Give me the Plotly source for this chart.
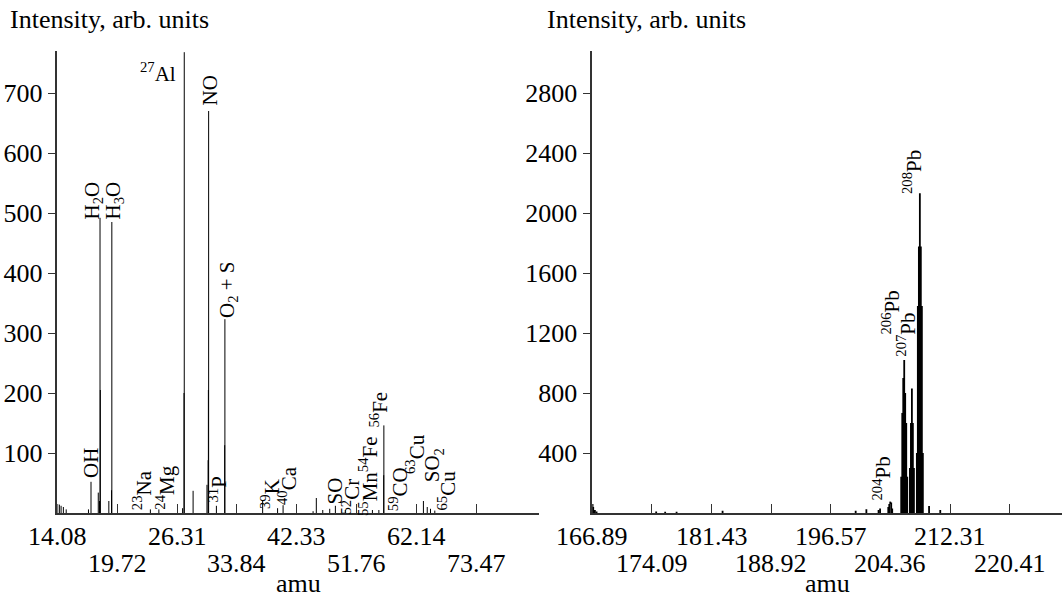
import numpy as np
import plotly.graph_objects as go

W, H = 1062, 598

# ---------------- data ----------------
# Left spectrum: stick positions (amu) and intensities (arb. units)
left_mass = [14.10, 14.25, 14.40, 14.60, 14.85, 16.89, 17.13, 17.83, 17.95, 18.00, 18.03,
             18.87, 19.14, 19.17, 23.25, 24.20, 26.96, 27.13, 27.16, 28.23, 29.95,
             30.10, 30.13, 30.16, 31.15, 32.22, 32.25, 37.37, 39.50, 40.30, 44.80,
             45.30, 46.30, 47.40, 48.30, 49.90, 54.40, 55.50, 56.33, 56.36, 63.40,
             64.10, 64.70, 65.50]
left_int = [15, 14, 12, 10, 6, 6, 52, 34, 20, 492, 205,
            20, 38, 485, 6, 6, 8, 200, 768, 37, 47,
            88, 205, 670, 12, 113, 323, 20, 8, 13, 3,
            25, 5, 7, 12, 5, 5, 5, 63, 146, 20,
            10, 7, 4]

# Right spectrum
right_mass = [166.92, 167.00, 167.20, 167.40, 174.60, 175.70, 177.10, 182.80,
              199.80, 201.20, 202.80, 203.00,
              204.08, 204.21, 204.34, 204.47, 204.60,
              205.79, 205.93, 206.06, 206.19, 206.32, 206.46, 206.59,
              206.94, 207.08, 207.21, 207.34, 207.48,
              207.87, 208.00, 208.14, 208.27, 208.40, 208.54, 208.67,
              209.50, 211.00]
right_int = [60, 40, 20, 10, 10, 8, 8, 15,
             15, 25, 20, 30,
             40, 60, 76, 70, 30,
             242, 667, 900, 1020, 800, 600, 242,
             300, 600, 830, 600, 300,
             400, 1380, 1776, 2131, 1776, 1380, 400,
             47, 20]

left_tick_labels = ["14.08", "19.72", "26.31", "33.84", "42.33", "51.76", "62.14", "73.47"]
right_tick_labels = ["166.89", "174.09", "181.43", "188.92", "196.57", "204.36", "212.31", "220.41"]
left_y_ticks = [100, 200, 300, 400, 500, 600, 700]
right_y_ticks = [400, 800, 1200, 1600, 2000, 2400, 2800]

left_peak_labels = ["OH", "H<sub>2</sub>O", "H<sub>3</sub>O", "NO", "O<sub>2</sub> + S",
                    "<sup>23</sup>Na", "<sup>24</sup>Mg", "<sup>31</sup>P", "<sup>39</sup>K",
                    "<sup>40</sup>Ca", "SO", "<sup>52</sup>Cr", "<sup>55</sup>Mn<sup>54</sup>Fe",
                    "<sup>56</sup>Fe", "<sup>59</sup>CO", "<sup>63</sup>Cu", "SO<sub>2</sub>",
                    "<sup>65</sup>Cu"]
right_peak_labels = ["<sup>208</sup>Pb", "<sup>206</sup>Pb", "<sup>207</sup>Pb", "<sup>204</sup>Pb"]

# ---------------- layout helpers ----------------
FONT = "Liberation Serif"
AX = "#333333"
# label centres in pixels (layout only)
left_label_pos = [(90.5, 463.5), (92.5, 201), (113.5, 201), (209.5, 91), (228, 290),
                  (142.7, 490.5), (164.7, 488), (218, 489.5), (270.5, 494.5),
                  (287, 486), (334.5, 491), (350.5, 497), (368, 476),
                  (378.5, 410), (398.7, 489.5), (415.5, 454.5), (433.3, 465),
                  (446.5, 491)]
right_label_pos = [(912, 172), (890.5, 313), (905.7, 335), (881.5, 479)]


def px(x):
    return x / W


def py(y):
    return 1 - y / H


def sticks(mass, inten):
    xs, ys = [], []
    for m, v in zip(mass, inten):
        s = float(np.sqrt(m))
        xs += [s, s, None]
        ys += [0, v, None]
    return xs, ys


fig = go.Figure()
lx, ly = sticks(left_mass, left_int)
rx, ry = sticks(right_mass, right_int)
fig.add_trace(go.Scatter(x=lx, y=ly, mode="lines", line=dict(color="black", width=1),
                         xaxis="x", yaxis="y", showlegend=False, hoverinfo="skip"))
fig.add_trace(go.Scatter(x=rx, y=ry, mode="lines", line=dict(color="black", width=1.8),
                         xaxis="x2", yaxis="y2", showlegend=False, hoverinfo="skip"))

ydom = [1 - 513 / H, 1 - 51 / H]
common_x = dict(showgrid=False, zeroline=False, showline=True, linecolor=AX, linewidth=1.5,
                ticks="inside", ticklen=9, tickwidth=1.2, tickcolor=AX, showticklabels=False)
common_y = dict(showgrid=False, zeroline=False, showline=True, linecolor=AX, linewidth=1.5,
                ticks="outside", ticklen=8, tickwidth=1.2, tickcolor=AX,
                tickfont=dict(family=FONT, size=26, color="black"))

lt = [float(np.sqrt(float(t))) for t in left_tick_labels]
rt = [float(np.sqrt(float(t))) for t in right_tick_labels]

fig.update_layout(
    width=W, height=H, margin=dict(l=0, r=0, t=0, b=0),
    paper_bgcolor="white", plot_bgcolor="white",
    xaxis=dict(domain=[57.4 / W, 539 / W], range=[lt[0], lt[0] + 481.6 / 86.94],
               tickvals=lt, anchor="y", **common_x),
    yaxis=dict(domain=ydom, range=[0, 770], tickvals=left_y_ticks, anchor="x", **common_y),
    xaxis2=dict(domain=[592.3 / W, 1.0], range=[rt[0], rt[0] + 469.7 / 216.5],
                tickvals=rt, anchor="y2", **common_x),
    yaxis2=dict(domain=ydom, range=[0, 3080], tickvals=right_y_ticks, anchor="x2", **common_y),
)

ann = []
tf = dict(family=FONT, size=26, color="black")
for i, (t, v) in enumerate(zip(left_tick_labels, lt)):
    ann.append(dict(x=v, xref="x", y=py(536 if i % 2 == 0 else 563), yref="paper", text=t,
                    showarrow=False, xanchor="center", yanchor="middle", font=tf))
for i, (t, v) in enumerate(zip(right_tick_labels, rt)):
    ann.append(dict(x=v, xref="x2", y=py(536 if i % 2 == 0 else 563), yref="paper", text=t,
                    showarrow=False, xanchor="center", yanchor="middle", font=tf))
for xc in [(57.4 + 539) / 2, (592.3 + W) / 2]:
    ann.append(dict(x=px(xc), xref="paper", y=py(583), yref="paper", text="amu",
                    showarrow=False, xanchor="center", yanchor="middle", font=tf, borderpad=0))
for xl in [8, 545]:
    ann.append(dict(x=px(xl), xref="paper", y=py(20), yref="paper", text="Intensity, arb. units",
                    showarrow=False, xanchor="left", yanchor="middle", font=tf))

lf = dict(family=FONT, size=21, color="black")
for t, (x0, y0) in zip(left_peak_labels, left_label_pos):
    ann.append(dict(x=px(x0), xref="paper", y=py(y0), yref="paper", text=t, textangle=-90,
                    showarrow=False, xanchor="center", yanchor="middle", font=lf))
ann.append(dict(x=px(178), xref="paper", y=py(72), yref="paper", text="<sup>27</sup>Al",
                showarrow=False, xanchor="right", yanchor="middle", font=lf))
for t, (x0, y0) in zip(right_peak_labels, right_label_pos):
    ann.append(dict(x=px(x0), xref="paper", y=py(y0), yref="paper", text=t, textangle=-90,
                    showarrow=False, xanchor="center", yanchor="middle", font=lf))
fig.update_layout(annotations=ann)

fig.write_html("out.html", config={"displayModeBar": False},
               post_script="document.body.style.margin='0';document.body.style.overflow='hidden';")
